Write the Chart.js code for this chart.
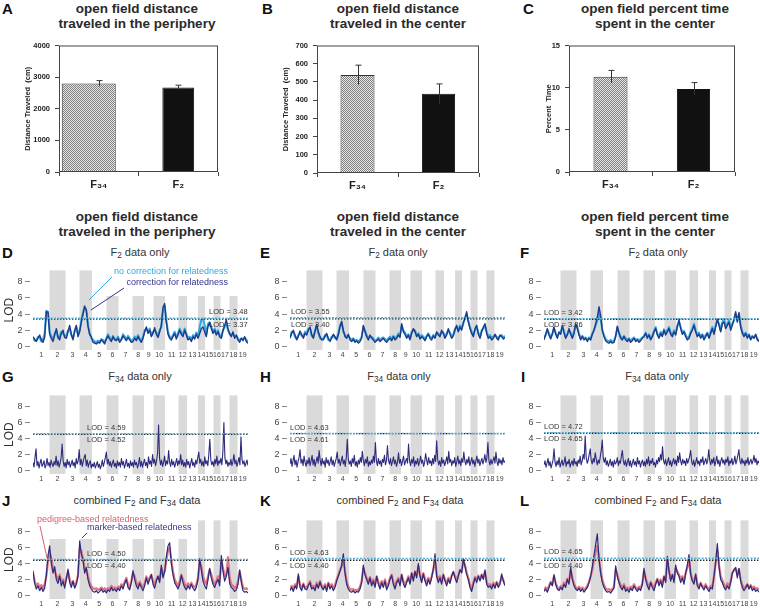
<!DOCTYPE html>
<html>
<head>
<meta charset="utf-8">
<script src="https://cdn.jsdelivr.net/npm/chart.js@4.4.0/dist/chart.umd.min.js"></script>
<style>
  body { margin: 0; width: 760px; height: 608px; position: relative; overflow: hidden; background: #fff;
         font-family: 'Liberation Sans', Arial, sans-serif; color: #222; }
  canvas { position: absolute; }
  .title { position: absolute; transform: translateX(-50%); text-align: center; font-weight: bold;
           font-size: 13.5px; line-height: 15px; white-space: nowrap; color: #2a2a2a; }
  .sub { position: absolute; transform: translate(-50%, -50%); font-size: 11px; white-space: nowrap; color: #333; }
  .sub sub { font-size: 75%; vertical-align: -0.2em; line-height: 0; }
  .letter { position: absolute; font-weight: bold; font-size: 15px; line-height: 15px; color: #111; }
</style>
</head>
<body>

<div class="letter" style="left:2px;top:1px">A</div>
<div class="letter" style="left:262px;top:1px">B</div>
<div class="letter" style="left:523px;top:1px">C</div>
<div class="title" style="left:137px;top:1px">open field distance<br>traveled in the periphery</div>
<div class="title" style="left:398px;top:1px">open field distance<br>traveled in the center</div>
<div class="title" style="left:655px;top:1px">open field percent time<br>spent in the center</div>

<div class="title" style="left:137px;top:209px">open field distance<br>traveled in the periphery</div>
<div class="title" style="left:398px;top:209px">open field distance<br>traveled in the center</div>
<div class="title" style="left:655px;top:209px">open field percent time<br>spent in the center</div>

<div class="letter" style="left:2px;top:245px">D</div>
<div class="letter" style="left:260px;top:245px">E</div>
<div class="letter" style="left:520px;top:245px">F</div>
<div class="letter" style="left:2px;top:369px">G</div>
<div class="letter" style="left:260px;top:369px">H</div>
<div class="letter" style="left:521px;top:369px">I</div>
<div class="letter" style="left:2px;top:493px">J</div>
<div class="letter" style="left:260px;top:493px">K</div>
<div class="letter" style="left:520px;top:493px">L</div>

<div class="sub" style="left:140px;top:252px">F<sub>2</sub> data only</div>
<div class="sub" style="left:398px;top:252px">F<sub>2</sub> data only</div>
<div class="sub" style="left:658px;top:252px">F<sub>2</sub> data only</div>
<div class="sub" style="left:140px;top:376px">F<sub>34</sub> data only</div>
<div class="sub" style="left:399px;top:376px">F<sub>34</sub> data only</div>
<div class="sub" style="left:657px;top:376px">F<sub>34</sub> data only</div>
<div class="sub" style="left:137px;top:500px">combined F<sub>2</sub> and F<sub>34</sub> data</div>
<div class="sub" style="left:400px;top:500px">combined F<sub>2</sub> and F<sub>34</sub> data</div>
<div class="sub" style="left:658px;top:500px">combined F<sub>2</sub> and F<sub>34</sub> data</div>

<canvas id="barA" width="222" height="156" style="left:0;top:36px"></canvas>
<canvas id="barB" width="232" height="157" style="left:250px;top:36px"></canvas>
<canvas id="barC" width="233" height="157" style="left:505px;top:36px"></canvas>

<canvas id="scanD" width="250" height="100" style="left:0;top:262px"></canvas>
<canvas id="scanE" width="250" height="100" style="left:257px;top:262px"></canvas>
<canvas id="scanF" width="249" height="100" style="left:511px;top:262px"></canvas>
<canvas id="scanG" width="250" height="99" style="left:0;top:387px"></canvas>
<canvas id="scanH" width="250" height="99" style="left:257px;top:387px"></canvas>
<canvas id="scanI" width="249" height="99" style="left:511px;top:387px"></canvas>
<canvas id="scanJ" width="250" height="99" style="left:0;top:512px"></canvas>
<canvas id="scanK" width="250" height="99" style="left:257px;top:512px"></canvas>
<canvas id="scanL" width="249" height="99" style="left:511px;top:512px"></canvas>

<script>
// ---- bar charts A-C ----
const barGroups = ['F₃₄', 'F₂'];
const peripheryMeans = [2800, 2670];
const peripheryErrors = [90, 75];
const centerMeans = [538, 435];
const centerErrors = [54, 54];
const percentMeans = [11.3, 9.85];
const percentErrors = [0.75, 0.75];

// ---- genome scans D-L ----
const chromosomes = ['1','2','3','4','5','6','7','8','9','10','11','12','13','14','15','16','17','18','19'];
const chromosomeLengths = [99, 96, 84, 75, 87, 72, 84, 69, 57, 69, 81, 51, 66, 42, 51, 42, 54, 48, 63];
const lodTicks = [0, 2, 4, 6, 8];
const upperThresholds = [3.48, 3.55, 3.42, 4.59, 4.63, 4.72, 4.50, 4.63, 4.65];
const lowerThresholds = [3.37, 3.40, 3.36, 4.52, 4.61, 4.65, 4.40, 4.40, 4.40];

// D: periphery, F2 only
const dNoCorrection = [
  1.0, 0.7, 0.8, 1.2, 1.1, 0.6, 0.9, 1.6, 4.4, 4.3,  1.8, 1.2, 0.9, 1.6, 1.9, 1.0, 1.2, 1.8, 1.6, 1.3,
  1.3, 2.0, 2.2, 1.4, 1.0, 1.8, 2.3, 1.5, 2.0, 3.2,  4.2, 5.0, 4.4, 2.6, 1.6, 1.0, 0.8, 0.6, 0.5, 0.7,
  0.6, 0.9, 0.8, 0.5, 1.0, 1.5, 1.1, 0.8, 1.3, 0.9,  0.9, 1.2, 0.7, 0.9, 1.5, 1.2, 0.9, 1.3, 1.0, 0.7,
  0.8, 1.2, 0.9, 1.4, 1.0, 0.7, 1.2, 2.0, 2.2, 1.8,  2.2, 1.4, 1.8, 2.0, 1.7, 1.3, 2.0, 2.4, 4.5, 5.0,
  3.2, 1.8, 1.2, 1.0, 1.4, 1.8, 1.2, 1.6, 2.2, 1.7,  1.5, 2.2, 1.6, 1.0, 1.2, 0.8, 1.4, 1.1, 1.7, 1.3,
  2.4, 3.3, 3.4, 2.6, 1.6, 2.8, 3.0, 2.4, 1.8, 2.2,  1.6, 2.0, 1.4, 1.2, 2.0, 2.4, 2.8, 2.0, 1.6, 1.4,
  1.6, 1.2, 1.3, 1.0, 0.7, 1.0, 0.9, 1.1, 0.8, 0.6
];
const dCorrection = [
  1.2, 0.9, 0.6, 1.0, 1.4, 0.8, 0.5, 1.1, 4.3, 4.2,  1.5, 1.0, 0.6, 1.4, 2.2, 1.2, 0.8, 1.6, 2.0, 1.1,
  1.0, 1.8, 2.6, 1.5, 0.8, 2.0, 2.6, 1.2, 1.8, 3.0,  4.0, 4.9, 4.5, 2.5, 1.5, 1.2, 0.5, 0.4, 0.3, 0.5,
  0.4, 0.8, 0.6, 0.3, 0.9, 1.3, 0.9, 0.6, 1.2, 0.8,  0.7, 1.0, 0.5, 0.8, 1.3, 1.0, 0.7, 1.1, 0.8, 0.5,
  0.6, 1.0, 0.7, 1.2, 0.8, 0.5, 1.0, 1.8, 2.4, 1.6,  2.0, 1.2, 1.6, 2.3, 1.5, 1.1, 1.8, 2.6, 4.8, 5.3,
  3.0, 1.5, 1.0, 0.8, 1.2, 1.6, 0.9, 1.4, 2.0, 1.5,  1.2, 2.0, 1.4, 0.8, 1.0, 0.6, 1.2, 0.9, 1.5, 1.0,
  1.6, 2.2, 2.4, 1.8, 1.2, 2.5, 2.9, 2.2, 1.6, 2.0,  1.4, 1.8, 1.2, 1.0, 2.0, 2.6, 3.3, 2.2, 1.5, 1.2,
  1.8, 1.0, 1.4, 0.8, 0.5, 1.0, 0.7, 1.2, 0.6, 0.4
];
// E: center distance, F2 only
const eNoCorrection = [
  1.2, 1.8, 1.8, 1.2, 1.0, 1.4, 1.7, 1.3, 1.2, 1.8,  1.6, 2.2, 2.2, 1.3, 1.2, 2.0, 2.5, 1.6, 1.0, 0.9,
  1.0, 1.4, 1.4, 0.8, 0.8, 1.2, 1.3, 1.0, 1.0, 1.6,  2.6, 2.9, 1.8, 1.4, 1.2, 1.3, 1.0, 0.8, 1.0, 0.7,
  0.8, 0.6, 0.8, 1.2, 2.4, 2.0, 1.4, 1.0, 1.2, 1.2,  1.0, 0.7, 0.8, 1.1, 0.8, 1.0, 1.1, 0.9, 0.7, 1.0,
  1.2, 0.9, 1.3, 1.0, 1.2, 1.6, 1.3, 2.6, 2.0, 1.7,  1.2, 1.5, 1.0, 1.8, 2.0, 2.0, 1.4, 1.6, 1.1, 1.4,
  1.2, 0.9, 1.3, 1.6, 1.2, 1.0, 1.4, 1.2, 1.6, 1.6,  1.4, 1.8, 1.7, 1.2, 1.6, 2.0, 1.7, 1.2, 1.5, 2.2,
  2.4, 2.0, 2.6, 2.2, 2.8, 3.6, 4.0, 3.2, 2.4, 1.8,  1.4, 2.0, 2.4, 1.7, 1.2, 2.0, 2.2, 2.6, 1.8, 1.2,
  1.4, 1.0, 1.2, 1.4, 1.2, 1.0, 1.3, 1.4, 1.1, 1.3
];
const eCorrection = [
  1.0, 1.6, 2.0, 1.4, 0.8, 1.2, 1.9, 1.5, 1.0, 1.6,  1.4, 2.0, 2.4, 1.5, 1.0, 1.8, 2.7, 1.8, 1.2, 0.8,
  0.8, 1.2, 1.6, 1.0, 0.6, 1.0, 1.5, 1.2, 0.8, 1.4,  2.4, 3.1, 2.0, 1.2, 1.0, 1.5, 0.8, 0.6, 0.9, 0.5,
  0.7, 0.4, 0.6, 1.0, 2.6, 1.8, 1.2, 0.8, 1.4, 1.0,  0.8, 0.5, 0.7, 0.9, 0.6, 0.8, 1.0, 0.7, 0.5, 0.8,
  1.0, 0.7, 1.2, 0.8, 1.0, 1.4, 1.1, 2.8, 1.8, 1.5,  1.0, 1.4, 0.8, 1.6, 2.2, 1.8, 1.2, 1.5, 0.9, 1.2,
  1.0, 0.7, 1.2, 1.5, 1.0, 0.8, 1.3, 1.0, 1.8, 1.4,  1.2, 2.0, 1.6, 1.0, 1.4, 2.2, 1.5, 1.0, 1.3, 2.0,
  2.6, 1.8, 2.4, 2.0, 3.0, 3.4, 4.3, 3.0, 2.2, 1.6,  1.2, 2.2, 2.6, 1.5, 1.0, 1.8, 2.4, 2.8, 1.6, 1.0,
  1.2, 0.8, 1.0, 1.5, 1.0, 0.8, 1.4, 1.2, 0.9, 1.1
];
// F: percent time in center, F2 only
const fNoCorrection = [
  1.0, 1.4, 2.0, 1.6, 1.1, 1.5, 2.2, 1.7, 1.2, 1.6,  1.7, 2.4, 1.9, 1.2, 1.5, 2.0, 1.7, 1.2, 1.8, 2.6,
  2.4, 1.6, 1.0, 1.3, 1.0, 1.1, 0.8, 1.1, 1.0, 1.6,  2.0, 2.6, 3.2, 4.1, 3.4, 2.0, 1.4, 0.9, 0.7, 0.6,
  0.8, 0.6, 0.7, 1.3, 2.3, 1.7, 1.2, 1.0, 1.3, 1.0,  0.8, 1.0, 0.7, 0.9, 1.1, 0.8, 0.9, 0.7, 0.9, 1.1,
  1.3, 1.7, 1.2, 1.5, 1.0, 1.3, 1.9, 2.4, 1.6, 1.2,  1.8, 1.4, 2.1, 1.6, 2.0, 2.4, 1.7, 1.4, 2.0, 1.6,
  2.6, 3.0, 2.4, 1.7, 1.9, 1.4, 1.0, 1.2, 1.8, 2.2,  2.8, 2.0, 1.4, 1.7, 1.2, 1.5, 1.0, 1.4, 1.7, 1.2,
  1.8, 2.4, 1.7, 2.6, 3.2, 2.8, 2.0, 3.0, 3.4, 2.6,  2.8, 3.2, 2.4, 2.8, 3.2, 4.0, 3.2, 4.0, 2.6, 1.8,
  1.4, 1.7, 1.2, 1.5, 1.0, 1.3, 1.1, 1.4, 0.9, 0.8
];
const fCorrection = [
  0.8, 1.5, 2.2, 1.4, 0.9, 1.6, 2.4, 1.5, 1.0, 1.8,  1.5, 2.6, 1.7, 1.0, 1.4, 2.2, 1.5, 1.0, 1.6, 2.8,
  2.2, 1.4, 0.8, 1.2, 0.8, 1.0, 0.6, 1.0, 0.8, 1.5,  2.0, 2.8, 3.6, 4.9, 3.8, 2.0, 1.2, 0.7, 0.5, 0.4,
  0.6, 0.4, 0.5, 1.2, 2.5, 1.6, 1.0, 0.8, 1.2, 0.8,  0.6, 0.9, 0.5, 0.7, 1.0, 0.6, 0.8, 0.5, 0.7, 1.0,
  1.2, 1.6, 1.0, 1.4, 0.8, 1.2, 1.8, 2.2, 1.4, 1.0,  1.6, 1.2, 2.0, 1.4, 1.8, 2.2, 1.5, 1.2, 1.8, 1.4,
  2.4, 3.3, 2.2, 1.5, 1.8, 1.2, 0.8, 1.0, 1.6, 2.0,  2.6, 1.8, 1.2, 1.5, 1.0, 1.4, 0.8, 1.2, 1.6, 1.0,
  1.6, 2.2, 1.5, 2.4, 3.4, 2.6, 1.8, 2.8, 3.0, 2.2,  2.6, 3.0, 2.0, 2.6, 3.4, 4.3, 3.0, 4.2, 2.4, 1.6,
  1.2, 1.6, 1.0, 1.4, 0.8, 1.2, 1.0, 1.5, 0.8, 0.6
];
// G-I: F34 only (one reading per pixel column)
const gCorrection = [
  1.0, 0.4, 1.6, 2.7, 0.6, 1.1, 0.3, 0.9, 1.4, 0.5, 0.8, 1.2, 0.3, 0.7, 1.5, 0.6, 1.0, 0.4, 1.3, 0.8,
  0.5, 1.1, 0.7, 1.8, 0.6, 1.2, 0.4, 0.9, 1.6, 3.3, 1.2, 0.5, 1.0, 0.3, 1.4, 0.7, 1.1, 0.4, 0.8, 1.3,
  0.6, 1.0, 0.3, 1.5, 0.8, 1.2, 2.6, 0.7, 1.4, 0.5, 1.1, 1.7, 2.0, 0.6, 1.3, 0.4, 0.9, 1.2, 0.3, 0.8,
  0.5, 1.0, 0.3, 0.7, 1.1, 0.4, 0.8, 0.2, 0.6, 1.3, 0.5, 1.0, 1.6, 2.3, 0.8, 1.4, 0.6, 1.1, 0.4, 0.9,
  1.3, 0.5, 0.9, 0.3, 1.2, 0.6, 1.0, 0.4, 1.5, 0.7, 1.1, 0.3, 0.8, 1.4, 0.5, 0.9, 0.3, 1.2, 0.6, 1.0,
  0.4, 1.3, 0.7, 1.0, 0.3, 0.8, 1.6, 0.5, 1.1, 0.4, 0.9, 1.4, 0.6, 1.0, 0.3, 1.7, 0.8, 1.2, 0.5, 2.0,
  0.9, 1.4, 0.6, 1.2, 2.2, 5.7, 1.5, 0.7, 1.3, 0.5, 1.0, 1.8, 0.6, 1.2, 0.8, 2.5, 1.0, 0.5, 1.4, 0.7,
  1.1, 0.4, 0.9, 1.5, 0.6, 1.2, 0.8, 2.0, 0.7, 1.3, 0.5, 1.0, 0.4, 1.4, 0.7, 1.1, 0.3, 0.9, 1.5, 0.6,
  1.0, 0.4, 1.3, 0.8, 1.6, 2.3, 0.9, 1.4, 0.6, 1.1, 0.5, 1.7, 0.8, 1.2, 0.6, 2.0, 3.9, 1.3, 0.7, 1.1,
  0.5, 1.4, 0.8, 1.8, 0.6, 1.2, 0.9, 1.5, 0.7, 2.4, 6.0, 1.6, 0.8, 1.3, 0.5, 1.0, 0.7, 1.4, 0.6, 1.1,
  2.0, 0.8, 1.3, 0.5, 1.0, 1.6, 0.7, 4.2, 1.4, 0.8, 1.2, 0.5, 0.9, 1.3, 0.6
];
const hCorrection = [
  0.8, 1.5, 0.5, 1.2, 1.9, 0.7, 1.3, 0.4, 1.1, 1.6, 2.6, 0.9, 1.4, 0.6, 1.8, 1.0, 0.5, 1.3, 0.8, 1.6,
  0.6, 1.2, 1.9, 0.7, 1.4, 0.5, 1.1, 1.7, 0.9, 2.5, 1.3, 0.6, 1.5, 0.8, 1.2, 0.4, 1.6, 0.9, 1.3, 0.6,
  1.1, 1.7, 0.7, 1.3, 0.5, 1.0, 1.5, 2.3, 0.9, 1.4, 0.6, 1.2, 1.8, 0.8, 1.3, 0.5, 1.6, 3.9, 1.4, 0.8,
  1.2, 0.5, 1.5, 0.9, 1.9, 0.6, 1.1, 0.4, 1.3, 0.8, 1.6, 1.0, 2.4, 1.2, 0.6, 1.4, 0.9, 1.7, 0.5, 1.1,
  0.7, 1.3, 0.9, 1.8, 1.0, 3.5, 1.2, 0.6, 1.5, 0.8, 1.2, 0.5, 1.4, 1.0, 1.9, 0.7, 1.2, 3.1, 1.3, 0.8,
  1.5, 0.6, 1.1, 1.7, 0.8, 1.3, 0.5, 1.0, 2.2, 0.9, 1.4, 0.6, 1.2, 1.8, 0.7, 1.1, 1.5, 0.9, 3.3, 1.2,
  0.6, 1.4, 0.9, 1.7, 0.5, 1.2, 0.8, 1.5, 0.6, 1.1, 1.8, 0.9, 1.3, 0.5, 1.0, 2.1, 1.3, 0.7, 1.6, 0.9,
  1.2, 0.6, 1.5, 0.8, 1.9, 1.1, 3.7, 1.4, 0.7, 1.2, 0.5, 1.6, 0.9, 1.3, 0.6, 1.1, 1.7, 0.8, 2.4, 1.0,
  1.4, 0.6, 1.2, 0.9, 1.6, 0.5, 1.1, 1.8, 0.8, 1.3, 0.6, 1.5, 1.0, 2.3, 1.2, 0.7, 1.4, 0.9, 1.7, 0.6,
  1.1, 1.6, 0.8, 1.3, 0.5, 1.2, 1.8, 0.9, 1.4, 0.6, 1.1, 1.5, 0.8, 1.3, 2.0, 1.0, 1.6, 3.5, 1.2, 0.7,
  1.4, 0.8, 1.2, 1.7, 0.9, 2.3, 1.1, 0.6, 1.5, 0.9, 1.3, 0.7, 1.6, 1.0, 1.2
];
const iCorrection = [
  0.7, 1.2, 0.4, 0.9, 1.5, 0.6, 1.1, 0.3, 0.8, 1.3, 2.7, 1.0, 0.5, 1.2, 0.7, 1.6, 0.4, 0.9, 1.3, 0.6,
  1.0, 1.7, 0.5, 1.1, 0.8, 1.4, 0.4, 0.9, 1.2, 0.6, 1.5, 0.8, 1.1, 0.5, 1.3, 0.9, 1.8, 0.7, 1.2, 2.0,
  1.4, 4.3, 1.6, 0.9, 1.3, 2.0, 2.7, 1.2, 0.8, 1.5, 1.0, 2.2, 1.4, 0.7, 1.3, 0.9, 1.7, 2.5, 3.8, 1.5,
  1.0, 1.6, 0.7, 1.2, 0.5, 0.9, 1.4, 0.6, 1.1, 0.4, 1.3, 0.8, 1.0, 1.6, 0.6, 1.2, 0.9, 1.8, 2.5, 1.1,
  0.7, 1.3, 0.5, 1.0, 1.5, 0.6, 1.2, 0.4, 0.9, 1.4, 0.7, 1.1, 0.5, 1.6, 0.8, 1.2, 0.4, 1.0, 1.3, 0.6,
  1.1, 0.5, 1.4, 0.8, 1.7, 0.6, 1.2, 0.9, 1.5, 0.7, 1.0, 0.4, 1.3, 0.8, 1.6, 1.1, 2.0, 1.3, 3.0, 1.2,
  0.8, 1.4, 0.6, 1.1, 1.6, 0.7, 1.2, 0.5, 1.0, 1.5, 0.8, 1.3, 0.6, 1.8, 1.0, 2.2, 1.2, 0.7, 1.4, 0.9,
  1.2, 0.6, 1.5, 0.9, 1.3, 1.8, 2.5, 1.1, 0.7, 1.3, 0.5, 1.0, 1.6, 0.8, 1.2, 0.6, 1.4, 1.0, 1.7, 0.7,
  1.1, 1.5, 0.8, 1.3, 2.6, 1.2, 0.7, 1.4, 0.9, 1.6, 0.6, 1.1, 1.8, 0.8, 1.3, 0.5, 1.2, 1.6, 0.9, 1.3,
  0.7, 1.4, 1.0, 1.7, 0.6, 1.2, 0.9, 1.5, 0.7, 1.1, 1.8, 0.8, 1.3, 1.9, 2.6, 1.2, 0.8, 1.5, 0.9, 1.2,
  0.6, 1.3, 0.9, 1.6, 0.7, 1.1, 1.4, 0.8, 1.2, 1.9, 1.0, 1.5, 0.7, 1.2, 0.9
];
// J-L: combined F2 and F34
const jPedigree = [
  2.8, 1.8, 1.2, 1.5, 1.0, 1.3, 0.9, 1.4, 2.4, 4.2,  5.4, 4.6, 3.4, 3.2, 2.4, 2.0, 2.6, 1.8, 2.0, 1.3,
  2.2, 3.0, 2.0, 1.4, 1.8, 1.2, 1.6, 2.6, 5.8, 5.6,  4.6, 3.4, 3.2, 2.4, 1.6, 1.2, 0.9, 0.8, 0.9, 0.7,
  0.8, 1.0, 0.7, 0.9, 0.6, 0.9, 0.8, 1.2, 0.9, 1.0,  0.8, 1.1, 0.9, 1.4, 1.1, 1.7, 2.2, 1.4, 1.0, 1.8,
  2.8, 2.4, 1.6, 1.2, 1.7, 1.3, 1.0, 1.5, 2.4, 1.8,  2.2, 2.6, 1.8, 1.4, 2.0, 2.4, 2.0, 3.4, 2.6, 3.0,
  4.4, 5.6, 6.0, 4.4, 3.0, 2.0, 1.6, 1.2, 1.8, 2.6,  2.0, 1.4, 1.1, 1.5, 1.2, 1.6, 1.2, 1.0, 1.4, 2.2,
  4.2, 3.6, 2.4, 1.8, 1.4, 2.4, 3.2, 2.6, 1.8, 1.4,  1.8, 2.4, 1.8, 4.4, 3.4, 2.4, 2.6, 4.8, 2.2, 1.4,
  1.2, 0.9, 1.1, 1.8, 3.0, 2.0, 1.0, 0.8, 0.9, 0.7
];
const jMarker = [
  3.1, 1.5, 0.8, 1.2, 0.6, 1.0, 0.5, 0.9, 2.6, 5.0,  6.2, 4.0, 2.8, 3.6, 2.0, 1.5, 2.4, 1.2, 1.8, 0.9,
  2.0, 3.3, 1.6, 1.0, 1.8, 0.9, 1.4, 2.4, 6.8, 5.2,  4.4, 2.8, 3.5, 2.0, 1.2, 0.8, 0.5, 0.4, 0.6, 0.3,
  0.5, 0.8, 0.4, 0.6, 0.3, 0.7, 0.5, 1.0, 0.6, 0.8,  0.5, 0.9, 0.6, 1.2, 0.8, 1.5, 2.0, 1.0, 0.7, 1.6,
  3.1, 2.0, 1.2, 0.8, 1.5, 1.0, 0.6, 1.2, 2.2, 1.4,  2.0, 2.6, 1.4, 0.9, 1.8, 2.4, 1.6, 3.8, 2.2, 3.0,
  4.8, 6.2, 6.6, 4.0, 2.6, 1.6, 1.2, 0.8, 1.4, 2.5,  1.6, 1.0, 0.7, 1.2, 0.8, 1.4, 0.9, 0.6, 1.0, 2.0,
  4.6, 3.2, 1.8, 1.2, 0.8, 2.0, 3.4, 2.2, 1.4, 1.0,  1.6, 2.0, 1.2, 5.0, 3.0, 1.8, 2.4, 3.5, 1.5, 1.0,
  0.8, 0.5, 0.7, 1.4, 3.2, 1.6, 0.6, 0.4, 0.5, 0.3
];
const kPedigree = [
  0.8, 1.2, 0.8, 1.4, 1.1, 2.4, 1.3, 0.9, 1.5, 1.0,  1.0, 1.4, 1.8, 1.1, 1.2, 0.9, 1.6, 1.2, 1.8, 1.2,
  1.0, 1.4, 0.8, 1.6, 1.1, 1.4, 0.9, 1.3, 2.0, 2.6,  3.2, 3.6, 4.6, 3.0, 1.8, 1.1, 0.8, 0.7, 0.8, 0.6,
  0.7, 0.7, 1.1, 1.8, 3.4, 2.8, 2.2, 1.7, 2.3, 1.5,  2.0, 1.3, 2.4, 1.7, 1.1, 1.8, 1.3, 2.0, 1.0, 1.5,
  2.2, 2.6, 1.7, 1.1, 1.8, 2.2, 1.5, 2.6, 1.8, 1.3,  1.8, 2.4, 1.7, 2.8, 2.1, 3.0, 2.5, 3.6, 2.6, 1.9,
  2.8, 2.1, 1.5, 2.2, 1.7, 2.4, 3.2, 4.4, 2.7, 1.9,  2.4, 1.7, 2.6, 2.0, 1.5, 2.2, 1.8, 2.5, 2.9, 2.4,
  1.9, 2.6, 3.2, 3.0, 4.3, 3.8, 2.9, 2.2, 1.3, 0.8,  1.6, 2.3, 1.9, 2.5, 2.0, 2.6, 2.2, 3.0, 1.7, 1.3,
  1.4, 1.1, 1.6, 1.2, 1.7, 1.3, 1.6, 2.4, 1.9, 1.4
];
const kMarker = [
  0.6, 1.0, 0.5, 1.2, 0.8, 2.7, 1.0, 0.6, 1.4, 0.8,  0.7, 1.2, 1.6, 0.8, 1.0, 0.6, 1.4, 0.9, 1.7, 1.0,
  0.7, 1.2, 0.5, 1.5, 0.8, 1.2, 0.6, 1.0, 1.8, 2.4,  3.0, 3.8, 5.2, 2.8, 1.4, 0.8, 0.5, 0.4, 0.6, 0.3,
  0.5, 0.4, 0.8, 1.6, 3.8, 2.6, 2.0, 1.4, 2.2, 1.2,  1.8, 1.0, 2.4, 1.4, 0.8, 1.6, 1.0, 1.8, 0.7, 1.2,
  2.0, 2.5, 1.4, 0.8, 1.6, 2.0, 1.2, 2.6, 1.5, 1.0,  1.6, 2.2, 1.4, 2.8, 1.8, 3.0, 2.2, 4.0, 2.4, 1.6,
  2.7, 1.8, 1.2, 2.0, 1.4, 2.2, 3.4, 5.2, 2.4, 1.6,  2.2, 1.4, 2.6, 1.8, 1.2, 2.0, 1.5, 2.4, 3.0, 2.2,
  1.6, 2.4, 3.2, 2.8, 4.6, 3.6, 2.6, 2.0, 1.0, 0.5,  1.4, 2.2, 1.6, 2.4, 1.8, 2.6, 2.0, 3.2, 1.4, 1.0,
  1.2, 0.8, 1.4, 0.9, 1.6, 1.0, 1.4, 2.7, 1.8, 1.2
];
const lPedigree = [
  0.7, 1.0, 0.7, 1.2, 1.7, 1.4, 2.4, 1.6, 1.0, 0.8,  1.2, 1.0, 1.6, 1.3, 2.1, 1.7, 3.2, 2.2, 1.5, 1.0,
  0.8, 1.1, 0.8, 1.0, 0.7, 0.9, 1.2, 1.7, 2.4, 3.2,  4.4, 5.4, 6.2, 4.6, 3.0, 2.0, 1.3, 0.9, 0.7, 0.8,
  0.6, 0.8, 1.1, 3.2, 2.6, 1.8, 1.3, 1.0, 1.4, 0.8,  1.0, 0.7, 1.1, 0.9, 1.4, 1.0, 0.8, 1.1, 0.9, 1.5,
  3.0, 2.2, 1.5, 1.0, 1.7, 1.3, 0.9, 1.6, 2.1, 1.5,  2.0, 1.4, 2.4, 1.9, 4.4, 3.2, 2.1, 2.6, 2.0, 3.4,
  3.0, 2.6, 2.0, 2.4, 1.8, 2.8, 3.5, 4.4, 2.8, 2.0,  1.7, 2.5, 1.5, 1.1, 1.6, 1.2, 1.0, 1.4, 1.0, 0.8,
  1.2, 1.1, 2.4, 4.0, 5.6, 3.8, 2.4, 1.9, 1.4, 1.0,  1.5, 1.2, 1.8, 2.8, 3.2, 3.4, 2.6, 3.3, 2.0, 1.3,
  0.9, 1.1, 1.4, 1.0, 1.3, 0.9, 1.1, 0.8, 0.9, 0.7
];
const lMarker = [
  0.5, 0.8, 0.4, 1.0, 1.6, 1.2, 2.6, 1.4, 0.8, 0.6,  1.0, 0.7, 1.4, 1.0, 2.0, 1.4, 3.5, 2.0, 1.2, 0.8,
  0.6, 0.9, 0.5, 0.8, 0.4, 0.7, 1.0, 1.6, 2.4, 3.6,  5.0, 6.4, 7.7, 4.6, 2.8, 1.6, 1.0, 0.6, 0.4, 0.5,
  0.3, 0.6, 0.9, 3.7, 2.4, 1.6, 1.0, 0.7, 1.2, 0.5,  0.8, 0.4, 0.9, 0.6, 1.2, 0.8, 0.5, 0.9, 0.6, 1.4,
  3.4, 2.0, 1.2, 0.7, 1.6, 1.0, 0.6, 1.4, 2.0, 1.2,  1.8, 1.0, 2.4, 1.6, 4.9, 3.0, 1.8, 2.6, 1.6, 3.8,
  2.8, 2.4, 1.6, 2.2, 1.4, 2.8, 3.8, 5.1, 2.6, 1.8,  1.4, 2.7, 1.2, 0.8, 1.5, 1.0, 0.7, 1.2, 0.8, 0.5,
  1.0, 0.8, 2.4, 4.2, 6.5, 3.6, 2.0, 1.6, 1.0, 0.7,  1.2, 0.8, 1.6, 2.8, 3.2, 3.5, 2.2, 3.4, 1.8, 1.0,
  0.6, 0.9, 1.4, 0.8, 1.2, 0.6, 0.9, 0.5, 0.7, 0.4
];

Chart.defaults.font.family = "'Liberation Sans', Arial, sans-serif";

const genomeLength = chromosomeLengths.reduce((a, b) => a + b, 0);
const chrStarts = [];
let runningStart = 0;
chromosomeLengths.forEach(len => { chrStarts.push(runningStart); runningStart += len; });
const chrMids = chrStarts.map((s, i) => s + chromosomeLengths[i] / 2);

function toPoints(values) {
  const step = genomeLength / (values.length - 1);
  return values.map((v, i) => ({ x: i * step, y: v }));
}

// checkered grey fill of the F34 bars
function hatch(ctx) {
  const tile = document.createElement('canvas');
  tile.width = 4; tile.height = 4;
  const g = tile.getContext('2d');
  g.fillStyle = '#e6e6e6';
  g.fillRect(0, 0, 4, 4);
  g.fillStyle = '#808080';
  for (let y = 0; y < 4; y++) for (let x = 0; x < 4; x++) if ((x + y) % 2 === 0) g.fillRect(x, y, 1, 1);
  return ctx.createPattern(tile, 'repeat');
}

function boxAndErrors(means, errors) {
  return {
    id: 'boxAndErrors',
    afterDatasetsDraw(chart) {
      const { ctx, chartArea: a, scales: { x, y } } = chart;
      ctx.save();
      ctx.strokeStyle = '#444';
      ctx.lineWidth = 1;
      ctx.strokeRect(a.left + 0.5, a.top + 0.5, a.right - a.left - 1, a.bottom - a.top - 1);
      ctx.strokeStyle = '#333';
      means.forEach((m, i) => {
        const cx = Math.round(x.getPixelForValue(i)) + 0.5;
        const top = y.getPixelForValue(m + errors[i]);
        const bottom = y.getPixelForValue(m - errors[i]);
        ctx.beginPath();
        ctx.moveTo(cx, bottom); ctx.lineTo(cx, top);
        ctx.moveTo(cx - 3, top); ctx.lineTo(cx + 3, top);
        ctx.stroke();
      });
      ctx.restore();
    }
  };
}

function barChart(id, means, errors, cfg) {
  const el = document.getElementById(id);
  const ctx = el.getContext('2d');
  new Chart(el, {
    type: 'bar',
    data: {
      labels: barGroups,
      datasets: [
        { data: [means[0], null], backgroundColor: hatch(ctx), borderColor: '#333', borderWidth: 1,
          categoryPercentage: cfg.f34Cat, barPercentage: cfg.f34Bar, skipNull: !cfg.shiftF34 },
        { data: [null, means[1]], backgroundColor: '#111', borderColor: '#111', borderWidth: 1,
          categoryPercentage: 1, barPercentage: cfg.f2Bar, skipNull: true }
      ]
    },
    options: {
      animation: false,
      responsive: false,
      layout: { padding: { top: cfg.padTop, right: cfg.padRight, left: 0, bottom: 0 }, autoPadding: false },
      plugins: { legend: { display: false }, tooltip: { enabled: false } },
      scales: {
        x: {
          grid: { drawOnChartArea: false, tickLength: 4, color: '#444' },
          border: { display: false },
          ticks: { font: { size: 11, weight: 'bold' }, color: '#222', padding: 2 },
          afterFit: s => { s.height = cfg.xHeight; }
        },
        y: {
          min: 0, max: cfg.max,
          grid: { drawOnChartArea: false, tickLength: 4, color: '#444' },
          border: { display: false },
          ticks: { stepSize: cfg.step, font: { size: 7.5, weight: 'bold' }, color: '#222', padding: 5,
                   callback: v => String(v) },
          title: { display: true, text: cfg.yTitle, font: { size: 7.5, weight: 'bold' }, color: '#222',
                   padding: { top: cfg.titlePad, bottom: 0 } },
          afterFit: s => { s.width = cfg.yWidth; }
        }
      }
    },
    plugins: [boxAndErrors(means, errors)]
  });
}

barChart('barA', peripheryMeans, peripheryErrors, { max: 4000, step: 1000, yTitle: 'Distance Traveled  (cm)',
  yWidth: 59, titlePad: 23, padTop: 6, padRight: 4, xHeight: 20, shiftF34: true, f34Cat: 0.503, f34Bar: 2.7, f2Bar: 0.40 });
barChart('barB', centerMeans, centerErrors, { max: 700, step: 100, yTitle: 'Distance Traveled  (cm)',
  yWidth: 67, titlePad: 31, padTop: 7, padRight: 3, xHeight: 20, shiftF34: false, f34Cat: 1, f34Bar: 0.42, f2Bar: 0.41 });
barChart('barC', percentMeans, percentErrors, { max: 15, step: 5, yTitle: 'Percent  Time',
  yWidth: 64, titlePad: 39, padTop: 7, padRight: 3, xHeight: 21, shiftF34: false, f34Cat: 1, f34Bar: 0.41, f2Bar: 0.40 });

// grey bands on even chromosomes + LOD labels + callouts
function scanDecor(cfg, upper, lower) {
  return {
    id: 'scanDecor',
    beforeDatasetsDraw(chart) {
      const { ctx, chartArea: a, scales: { x, y } } = chart;
      ctx.save();
      ctx.fillStyle = '#dadada';
      chromosomeLengths.forEach((len, i) => {
        if (i % 2 === 0) return;
        const chr = i + 1;
        let top = y.max;
        if (cfg.lowBands && cfg.lowBands.chromosomes.includes(chr)) top = cfg.lowBands.top;
        const x0 = x.getPixelForValue(chrStarts[i]);
        const x1 = x.getPixelForValue(chrStarts[i] + len);
        const y0 = y.getPixelForValue(top);
        ctx.fillRect(x0, y0, x1 - x0, a.bottom - y0);
      });
      ctx.restore();
    },
    afterDatasetsDraw(chart) {
      const { ctx, scales: { y } } = chart;
      ctx.save();
      ctx.font = "7.5px 'Liberation Sans', Arial";
      ctx.fillStyle = '#333';
      ctx.textBaseline = 'middle';
      ctx.textAlign = 'left';
      const lx = cfg.labelX - cfg.left;
      ctx.fillText('LOD = ' + upper.toFixed(2), lx, y.getPixelForValue(upper) - 6);
      ctx.fillText('LOD = ' + lower.toFixed(2), lx, y.getPixelForValue(lower) + 6);
      (cfg.notes || []).forEach(n => {
        ctx.font = "9px 'Liberation Sans', Arial";
        ctx.fillStyle = n.color;
        ctx.textAlign = n.align;
        ctx.fillText(n.text, n.x - cfg.left, n.y - cfg.top);
      });
      (cfg.pointers || []).forEach(p => {
        ctx.strokeStyle = p.color;
        ctx.lineWidth = 1;
        ctx.beginPath();
        ctx.moveTo(p.from[0] - cfg.left, p.from[1] - cfg.top);
        ctx.lineTo(p.to[0] - cfg.left, p.to[1] - cfg.top);
        ctx.stroke();
      });
      ctx.restore();
    }
  };
}

const seriesStyles = {
  noCorrection: { color: '#2fa9e0', width: 2 },
  correction:   { color: '#1f3a8a', width: 1.4 },
  f34:          { color: '#2e2b7d', width: 1.1 },
  pedigree:     { color: 'rgba(222,104,120,0.9)', width: 2.2 },
  marker:       { color: '#2c2a7c', width: 1.2 }
};

function scanChart(cfg, k) {
  const datasets = [
    { data: [{ x: 0, y: upperThresholds[k] }, { x: genomeLength, y: upperThresholds[k] }],
      borderColor: '#4fb0da', borderWidth: 1.5, borderDash: [2, 1.5], order: 0 },
    { data: [{ x: 0, y: lowerThresholds[k] }, { x: genomeLength, y: lowerThresholds[k] }],
      borderColor: '#222', borderWidth: 1.4, borderDash: [1.4, 1.6], order: 0 }
  ];
  cfg.series.forEach((s, j) => {
    const st = seriesStyles[s.style];
    datasets.push({ data: toPoints(s.values), borderColor: st.color, borderWidth: st.width,
                    order: cfg.series.length - j });
  });
  new Chart(document.getElementById(cfg.id), {
    type: 'line',
    data: { datasets },
    options: {
      animation: false,
      responsive: false,
      elements: { point: { radius: 0 }, line: { tension: 0, borderJoinStyle: 'round' } },
      layout: { padding: { top: 2, right: cfg.padRight, left: 0, bottom: 0 }, autoPadding: false },
      plugins: { legend: { display: false }, tooltip: { enabled: false } },
      scales: {
        x: {
          type: 'linear', min: 0, max: genomeLength,
          grid: { display: false, drawTicks: false }, border: { display: false },
          afterBuildTicks: s => { s.ticks = chrMids.map(v => ({ value: v })); },
          ticks: { autoSkip: false, maxRotation: 0, padding: 1, font: { size: 7 }, color: '#444',
                   callback: (v, i) => chromosomes[i] },
          afterFit: s => { s.height = 12; }
        },
        y: {
          min: -0.45, max: 9.4,
          grid: { display: false, drawTicks: false }, border: { display: false },
          afterBuildTicks: s => { s.ticks = lodTicks.map(v => ({ value: v })); },
          ticks: { padding: 3, font: { size: 9 }, color: '#444', callback: v => v + ' –' },
          title: { display: !!cfg.lodTitle, text: 'LOD', font: { size: 12 }, color: '#333',
                   padding: { top: 2, bottom: 0 } },
          afterFit: s => { s.width = 33; }
        }
      }
    },
    plugins: [scanDecor(cfg, upperThresholds[k], lowerThresholds[k])]
  });
}

const scanPanels = [
  { id: 'scanD', left: 0, top: 262, padRight: 2, lodTitle: true, labelX: 209,
    lowBands: { top: 6.23, chromosomes: [6, 8, 10, 12, 14, 16, 18] },
    series: [{ values: dNoCorrection, style: 'noCorrection' }, { values: dCorrection, style: 'correction' }],
    notes: [
      { text: 'no correction for relatedness', x: 228, y: 272, color: '#2fa9e0', align: 'right' },
      { text: 'correction for relatedness', x: 228, y: 283, color: '#35338a', align: 'right' }
    ],
    pointers: [
      { from: [112, 277], to: [89, 300], color: '#2fa9e0' },
      { from: [124, 288], to: [91, 310], color: '#35338a' }
    ] },
  { id: 'scanE', left: 257, top: 262, padRight: 2, labelX: 291,
    series: [{ values: eNoCorrection, style: 'noCorrection' }, { values: eCorrection, style: 'correction' }] },
  { id: 'scanF', left: 511, top: 262, padRight: 1, labelX: 544,
    series: [{ values: fNoCorrection, style: 'noCorrection' }, { values: fCorrection, style: 'correction' }] },
  { id: 'scanG', left: 0, top: 387, padRight: 2, lodTitle: true, labelX: 87,
    series: [{ values: gCorrection, style: 'f34' }] },
  { id: 'scanH', left: 257, top: 387, padRight: 2, labelX: 290,
    series: [{ values: hCorrection, style: 'f34' }] },
  { id: 'scanI', left: 511, top: 387, padRight: 1, labelX: 544,
    series: [{ values: iCorrection, style: 'f34' }] },
  { id: 'scanJ', left: 0, top: 512, padRight: 2, lodTitle: true, labelX: 87,
    lowBands: { top: 7.07, chromosomes: [2, 4, 6, 8, 10, 12] },
    series: [{ values: jPedigree, style: 'pedigree' }, { values: jMarker, style: 'marker' }],
    notes: [
      { text: 'pedigree-based relatedness', x: 37, y: 520, color: '#d8616c', align: 'left' },
      { text: 'marker-based relatedness', x: 87, y: 528, color: '#3b3690', align: 'left' }
    ],
    pointers: [
      { from: [40, 526], to: [47, 558], color: '#d8616c' },
      { from: [87, 533], to: [82, 538], color: '#3b3690' }
    ] },
  { id: 'scanK', left: 257, top: 512, padRight: 2, labelX: 290,
    series: [{ values: kPedigree, style: 'pedigree' }, { values: kMarker, style: 'marker' }] },
  { id: 'scanL', left: 511, top: 512, padRight: 1, labelX: 544,
    series: [{ values: lPedigree, style: 'pedigree' }, { values: lMarker, style: 'marker' }] }
];

scanPanels.forEach((p, k) => scanChart(p, k));
</script>
</body>
</html>
